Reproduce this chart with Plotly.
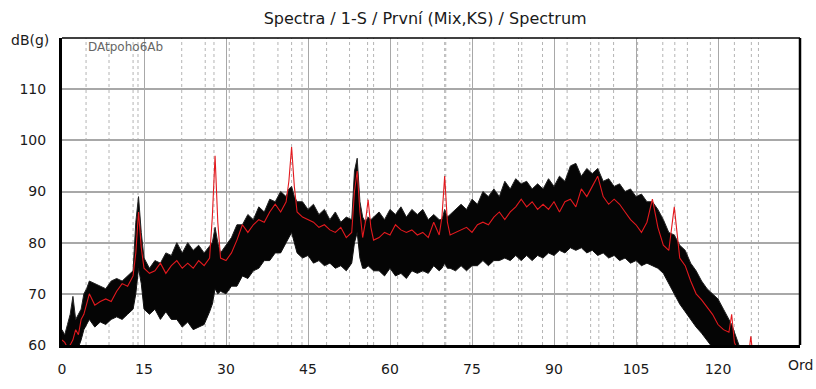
import plotly.graph_objects as go

# ---------------- data ----------------
orders = [0, 0.5, 1, 1.5, 2, 2.5, 3, 3.5, 4, 4.5, 5,
          6, 7, 8, 9, 10, 11, 12, 13,
          13.5, 14, 14.5, 15,
          16, 17, 18, 19, 20, 21, 22, 23, 24, 25, 26, 27,
          27.5, 28, 28.5, 29,
          30, 31, 32, 33, 34, 35, 36, 37, 38, 39, 40, 41,
          41.5, 42, 42.5, 43,
          44, 45, 46, 47, 48, 49, 50, 51, 52, 53,
          53.5, 54, 54.5, 55, 55.5, 56, 56.5, 57,
          58, 59, 60, 61, 62, 63, 64, 65, 66, 67, 68, 69,
          69.5, 70, 70.5, 71,
          72, 73, 74, 75, 76, 77, 78, 79, 80, 81, 82, 83, 84, 85, 86, 87, 88, 89, 90,
          91, 92, 93, 94, 95, 96, 97, 98, 99, 100, 101, 102, 103, 104, 105, 106, 107,
          108, 109, 110, 111, 112, 113, 114, 115, 116, 117, 118, 119, 120, 121, 122,
          122.5, 123, 124, 125, 125.5, 126, 126.5, 127]

red_db = [61, 60.5, 59.5, 60, 61, 63, 62, 65, 66, 68, 70,
          67.8, 68.5, 69, 68.5, 70.5, 72, 71.5, 73.5,
          78, 86, 79, 75,
          74, 74.5, 76, 74, 75.5, 76.5, 75, 76, 75, 76.5, 75.5, 77,
          85, 97, 84, 77,
          76.5, 78, 80.5, 83.5, 82, 83.5, 84.5, 84, 86, 87.5, 86, 88,
          92, 98.7, 91, 86,
          85, 84.5, 84, 83, 83.5, 82.5, 82, 83, 81, 82,
          90, 94, 86, 81, 84, 88.4, 83, 80.5,
          81, 82, 81.5, 83.5, 82.5, 82, 82.5, 81.5, 82, 81, 84, 81.5,
          85, 93, 84, 81.5,
          82, 82.5, 83, 82, 83.5, 84, 83.5, 85, 86, 84.5, 86, 87, 88.5, 87, 88, 86.5, 87.5, 86.5, 88,
          86, 88, 88.5, 87, 90.5, 89, 91, 93, 89, 87.5, 88.5, 87.5, 86, 84.5, 83.5, 82, 84,
          88.5, 83, 79.5, 78.5, 87, 77, 75.5, 72.5, 70, 68.8, 67.5, 66, 64, 63, 62.5,
          66, 60.5, 58, 57, 57, 61.7, 57, 56]

upper_db = [63, 62, 64, 66, 69.5, 65, 66, 67, 70, 71, 72.5,
            72, 71.5, 71, 72.5, 73, 72.5, 73.5, 74.5,
            84, 89, 82, 77,
            75, 76.5, 76, 78, 77.5, 80, 78, 80, 78.5, 79.5, 78, 79.5,
            80, 83, 80, 78,
            79.5, 81, 83.5, 83.5, 85.5, 84.5, 87, 86, 88.5, 88, 90, 89,
            90.5, 91, 89, 88,
            88, 86.5, 87.5, 85.5, 86.5, 84.5, 86, 84, 85, 84.5,
            94, 96.5, 88, 85, 84, 85, 84.5, 85,
            86, 84.5, 86.5, 85.5, 87, 85, 86.5, 85.5, 86.5, 84.5, 85.5, 84.5,
            84.5, 86.5, 85, 85.5,
            86.5, 87.5, 86.5, 88.5, 87.5, 90, 89, 90.5, 89, 92, 90.5, 92.5, 91.5, 92, 90.5, 91.5, 90.5, 92.5, 91,
            93, 92, 95, 95.5, 93, 94.5, 93.5, 94.5, 92, 92.5, 91, 91.5, 90, 90.5, 89, 89.5, 88,
            88, 86.5, 84.5, 82, 81.5, 79.5, 78.5, 76, 74.5, 72.5, 71, 70, 69, 67, 65,
            64, 62.5, 59.5, 57.5, 57, 56, 55, 55]

lower_db = [59, 59, 59, 59, 59, 59, 59.5, 61, 63, 64, 65,
            63.5, 64.5, 64, 65, 65.5, 65, 66, 67,
            70, 75, 72, 67,
            66, 67, 65, 66.5, 65, 65, 63.5, 64.5, 63, 63.5, 64, 66.5,
            68, 71, 70, 70.5,
            70, 71.5, 71.5, 73.5, 73, 74.5, 75, 76.5, 76.5, 78, 78, 80,
            81, 82, 80, 78,
            77, 77.5, 76, 76.5, 75.5, 76, 75, 75.5, 74.5, 76,
            80, 82, 77, 75, 75, 75.5, 75, 74.5,
            74.5, 73.5, 75, 73.5, 74, 73, 74.5, 74, 74.5, 74, 75.5, 74.5,
            75, 76, 75, 75,
            74.5, 75.5, 74.5, 75.5, 75.5, 76.5, 75.5, 76.5, 76.5, 77, 76.5, 77.5, 76.5, 77.5, 76.5, 77.5, 77, 78, 77.5,
            78.5, 78, 79, 78.5, 79, 78, 78.5, 77.5, 78, 77, 77.5, 76.5, 77, 76, 76.5, 75.5, 76,
            75.5, 75, 74, 72, 70, 68, 66.5, 65, 63.5, 62.3, 61, 59.5, 58, 57, 56,
            55.5, 55, 54, 53, 53, 52, 52, 52]

assert len(orders) == len(red_db) == len(upper_db) == len(lower_db)

x_ticks = [0, 15, 30, 45, 60, 75, 90, 105, 120]
y_ticks = [60, 70, 80, 90, 100, 110]

# harmonic cursor lines (dotted)
harmonic_a = [4.4, 8.6, 13.0, 21.9, 26.2, 30.6, 35.1, 39.5, 43.9, 48.4, 52.6, 57.0,
              61.4, 66.0, 70.2, 74.6, 79.0, 83.5, 87.9, 92.4, 96.7, 100.9, 105.3,
              109.9, 114.4, 118.6, 123.0, 127.4]
harmonic_b = [13.9, 27.8, 42.0, 55.9, 70.0, 84.1, 98.2, 112.1, 126.1]

title_text = "Spectra / 1-S / První (Mix,KS) / Spectrum"
cursor_text = "DAtpoho6Ab"
FONT = "DejaVu Sans"

fig = go.Figure()
fig.add_trace(go.Scatter(x=orders, y=lower_db, mode="lines",
                         line=dict(color="#111111", width=1), showlegend=False, hoverinfo="skip"))
fig.add_trace(go.Scatter(x=orders, y=upper_db, mode="lines", fill="tonexty",
                         fillcolor="#050505", line=dict(color="#222222", width=1),
                         showlegend=False, hoverinfo="skip"))
fig.add_trace(go.Scatter(x=orders, y=red_db, mode="lines",
                         line=dict(color="#e3191e", width=1.1), showlegend=False))

shapes = []
for xv in harmonic_a + harmonic_b:
    shapes.append(dict(type="line", xref="x", yref="paper", x0=xv, x1=xv, y0=0, y1=1,
                       line=dict(color="#b4b4b4", width=1, dash="dot"), layer="below"))
# top and right frame
shapes.append(dict(type="line", xref="paper", yref="paper", x0=0, x1=1, y0=1, y1=1,
                   line=dict(color="black", width=1.5)))
shapes.append(dict(type="line", xref="paper", yref="paper", x0=1, x1=1, y0=0, y1=1,
                   line=dict(color="black", width=2.5)))

fig.update_layout(
    width=816, height=389,
    margin=dict(l=62, r=16, t=38, b=27),
    paper_bgcolor="white", plot_bgcolor="white",
    font=dict(family=FONT, size=14, color="#1a1a1a"),
    title=dict(text=title_text, x=0.521, xanchor="center", xref="container",
               y=1 - 18 / 389, yanchor="middle", yref="container",
               font=dict(family=FONT, size=16, color="#1a1a1a")),
    shapes=shapes,
    annotations=[
        dict(text="dB(g)", xref="paper", yref="paper", x=0, y=1, xanchor="right",
             yanchor="middle", xshift=-11, yshift=-2, showarrow=False,
             font=dict(family=FONT, size=14, color="#1a1a1a")),
        dict(text="Ord", xref="paper", yref="paper", x=1, y=0, xanchor="center",
             yanchor="middle", yshift=-20, showarrow=False,
             font=dict(family=FONT, size=14, color="#1a1a1a")),
        dict(text=cursor_text, xref="paper", yref="paper", x=0, y=1, xanchor="left",
             yanchor="middle", xshift=24, yshift=-9, showarrow=False,
             font=dict(family=FONT, size=12, color="#666666")),
    ],
    xaxis=dict(range=[0, 135], tickvals=x_ticks, ticktext=[str(v) for v in x_ticks],
               showgrid=True, gridcolor="#a8a8a8", gridwidth=1,
               showline=True, linecolor="black", linewidth=3, zeroline=False,
               ticks="", ticklabelstandoff=9),
    yaxis=dict(range=[60, 120], tickvals=y_ticks, ticktext=[str(v) for v in y_ticks],
               showgrid=True, gridcolor="#a8a8a8", gridwidth=1.5,
               showline=True, linecolor="black", linewidth=3, zeroline=False,
               ticks="", ticklabelstandoff=10),
)

fig.write_html("out.html")
